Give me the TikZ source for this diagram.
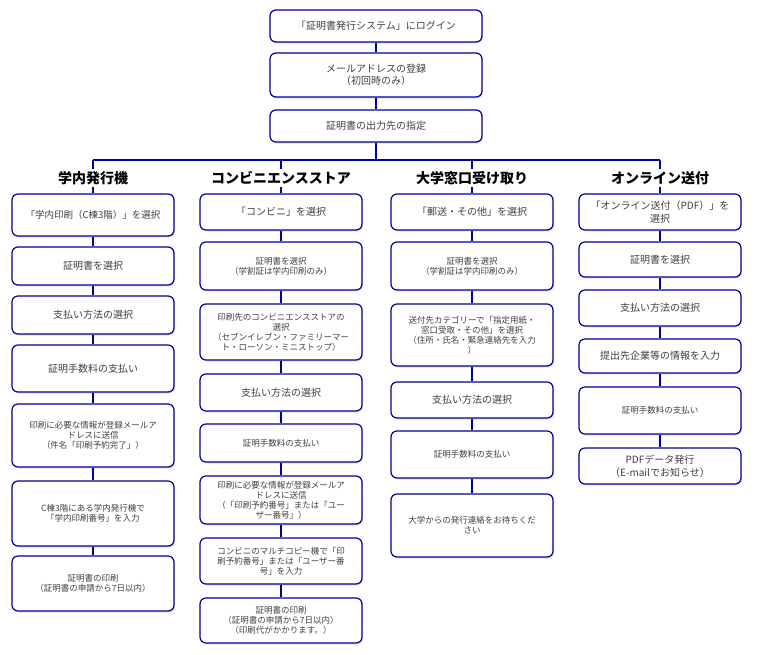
\documentclass[tikz,border=0pt]{standalone}
\usepackage{fontspec}
\setmainfont{Noto Sans CJK JP}
\usepackage{xcolor}
\usetikzlibrary{shadows}
\definecolor{boxblue}{RGB}{0,0,160}
\definecolor{boxtext}{RGB}{64,64,64}

\begin{document}
\begin{tikzpicture}[
 x=1pt, y=1pt,
 block/.style = {
    rectangle,
    rounded corners=6pt,
    draw=boxblue,
    line width=1.2pt,
    fill=white,
    text=boxtext,
    align=center,
    inner sep=2pt,
    minimum width=162pt,
    font=\fontsize{8.5}{10}\selectfont,
    drop shadow={shadow xshift=1.2pt,shadow yshift=-1.5pt,opacity=0.25}},
  big/.style = {font=\fontsize{10}{12.5}\selectfont},
  head/.style = {font=\fontsize{14}{16}\selectfont\bfseries, inner sep=2pt},
  link/.style = {draw=boxblue, line width=1.1pt}
  ]
\useasboundingbox[fill=white] (0,0) rectangle (757,-654);

% common steps
\node(t1)[block,big,minimum width=212pt,minimum height=32pt] at (376,-26){「証明書発行システム」にログイン};
\node(t2)[block,big,minimum width=212pt,minimum height=44pt,below of=t1,node distance=49pt]{メールアドレスの登録\\（初回時のみ）};
\node(t3)[block,big,minimum width=212pt,minimum height=32pt,below of=t2,node distance=51pt]{証明書の出力先の指定};
\coordinate(bus) at (376,-160);

% headings
\node(h1)[head] at (93,-178){学内発行機};
\node(h2)[head] at (281,-178){コンビニエンスストア};
\node(h3)[head] at (472,-178){大学窓口受け取り};
\node(h4)[head] at (660,-178){オンライン送付};

% 学内発行機
\node(a1)[block,font=\fontsize{9.5}{11}\selectfont,minimum height=42pt] at (93,-215){「学内印刷（C棟3階）」を選択};
\node(a2)[block,big,minimum height=38pt,below of=a1,node distance=51pt]{証明書を選択};
\node(a3)[block,big,minimum height=38pt,below of=a2,node distance=49pt]{支払い方法の選択};
\node(a4)[block,big,minimum height=47pt,below of=a3,node distance=53.5pt]{証明手数料の支払い};
\node(a5)[block,minimum height=63pt,below of=a4,node distance=67pt]{印刷に必要な情報が登録メールア\\ドレスに送信\\（件名「印刷予約完了」）};
\node(a6)[block,minimum height=65pt,below of=a5,node distance=78pt]{C棟3階にある学内発行機で\\「学内印刷番号」を入力};
\node(a7)[block,minimum height=55pt,below of=a6,node distance=70pt]{証明書の印刷\\（証明書の申請から7日以内）};

% コンビニエンスストア
\node(b1)[block,big,minimum height=36pt] at (281,-212){「コンビニ」を選択};
\node(b2)[block,minimum height=48pt,below of=b1,node distance=54pt]{証明書を選択\\（学割証は学内印刷のみ）};
\node(b3)[block,minimum height=56pt,below of=b2,node distance=66pt]{印刷先のコンビニエンスストアの\\選択\\（セブンイレブン・ファミリーマー\\ト・ローソン・ミニストップ）};
\node(b4)[block,big,minimum height=37pt,below of=b3,node distance=60.5pt]{支払い方法の選択};
\node(b5)[block,minimum height=38pt,below of=b4,node distance=50.5pt]{証明手数料の支払い};
\node(b6)[block,minimum height=48pt,below of=b5,node distance=57pt]{印刷に必要な情報が登録メールア\\ドレスに送信\\（「印刷予約番号」または「ユー\\ザー番号」）};
\node(b7)[block,minimum height=46pt,below of=b6,node distance=61pt]{コンビニのマルチコピー機で「印\\刷予約番号」または「ユーザー番\\号」を入力};
\node(b8)[block,minimum height=45pt,below of=b7,node distance=59.5pt]{証明書の印刷\\（証明書の申請から7日以内）\\（印刷代がかかります。）};

% 大学窓口受け取り
\node(c1)[block,big,minimum height=36pt] at (472,-212){「郵送・その他」を選択};
\node(c2)[block,minimum height=48pt,below of=c1,node distance=54pt]{証明書を選択\\（学割証は学内印刷のみ）};
\node(c3)[block,minimum height=62pt,below of=c2,node distance=69pt]{送付先カテゴリーで「指定用紙・\\窓口受取・その他」を選択\\（住所・氏名・緊急連絡先を入力\\）};
\node(c4)[block,big,minimum height=36pt,below of=c3,node distance=65pt]{支払い方法の選択};
\node(c5)[block,minimum height=47pt,below of=c4,node distance=54.5pt]{証明手数料の支払い};
\node(c6)[block,minimum height=63pt,below of=c5,node distance=71pt]{大学からの発行連絡をお待ちくだ\\さい};

% オンライン送付
\node(d1)[block,big,minimum height=36pt] at (660,-212){「オンライン送付（PDF）」を\\選択};
\node(d2)[block,big,minimum height=35pt,below of=d1,node distance=47.5pt]{証明書を選択};
\node(d3)[block,big,minimum height=36pt,below of=d2,node distance=48.5pt]{支払い方法の選択};
\node(d4)[block,big,minimum height=34pt,below of=d3,node distance=48pt]{提出先企業等の情報を入力};
\node(d5)[block,minimum height=47pt,below of=d4,node distance=54.5pt]{証明手数料の支払い};
\node(d6)[block,big,minimum height=36pt,below of=d5,node distance=55.5pt]{PDFデータ発行\\（E-mailでお知らせ）};

% connectors
\draw[link] (t1) -- (t2);
\draw[link] (t2) -- (t3);
\draw[link] (t3) -- (bus);
\draw[link] (h1.north |- bus) -- (h4.north |- bus);
\foreach \h/\f in {h1/a1,h2/b1,h3/c1,h4/d1}{
  \draw[link] (\h.north |- bus) -- (\h.north);
  \draw[link] (\h.south) -- (\f);
}
\foreach \u/\v in {a1/a2,a2/a3,a3/a4,a4/a5,a5/a6,a6/a7,
  b1/b2,b2/b3,b3/b4,b4/b5,b5/b6,b6/b7,b7/b8,
  c1/c2,c2/c3,c3/c4,c4/c5,c5/c6,
  d1/d2,d2/d3,d3/d4,d4/d5,d5/d6}
  \draw[link] (\u) -- (\v);

\end{tikzpicture}
\end{document}
